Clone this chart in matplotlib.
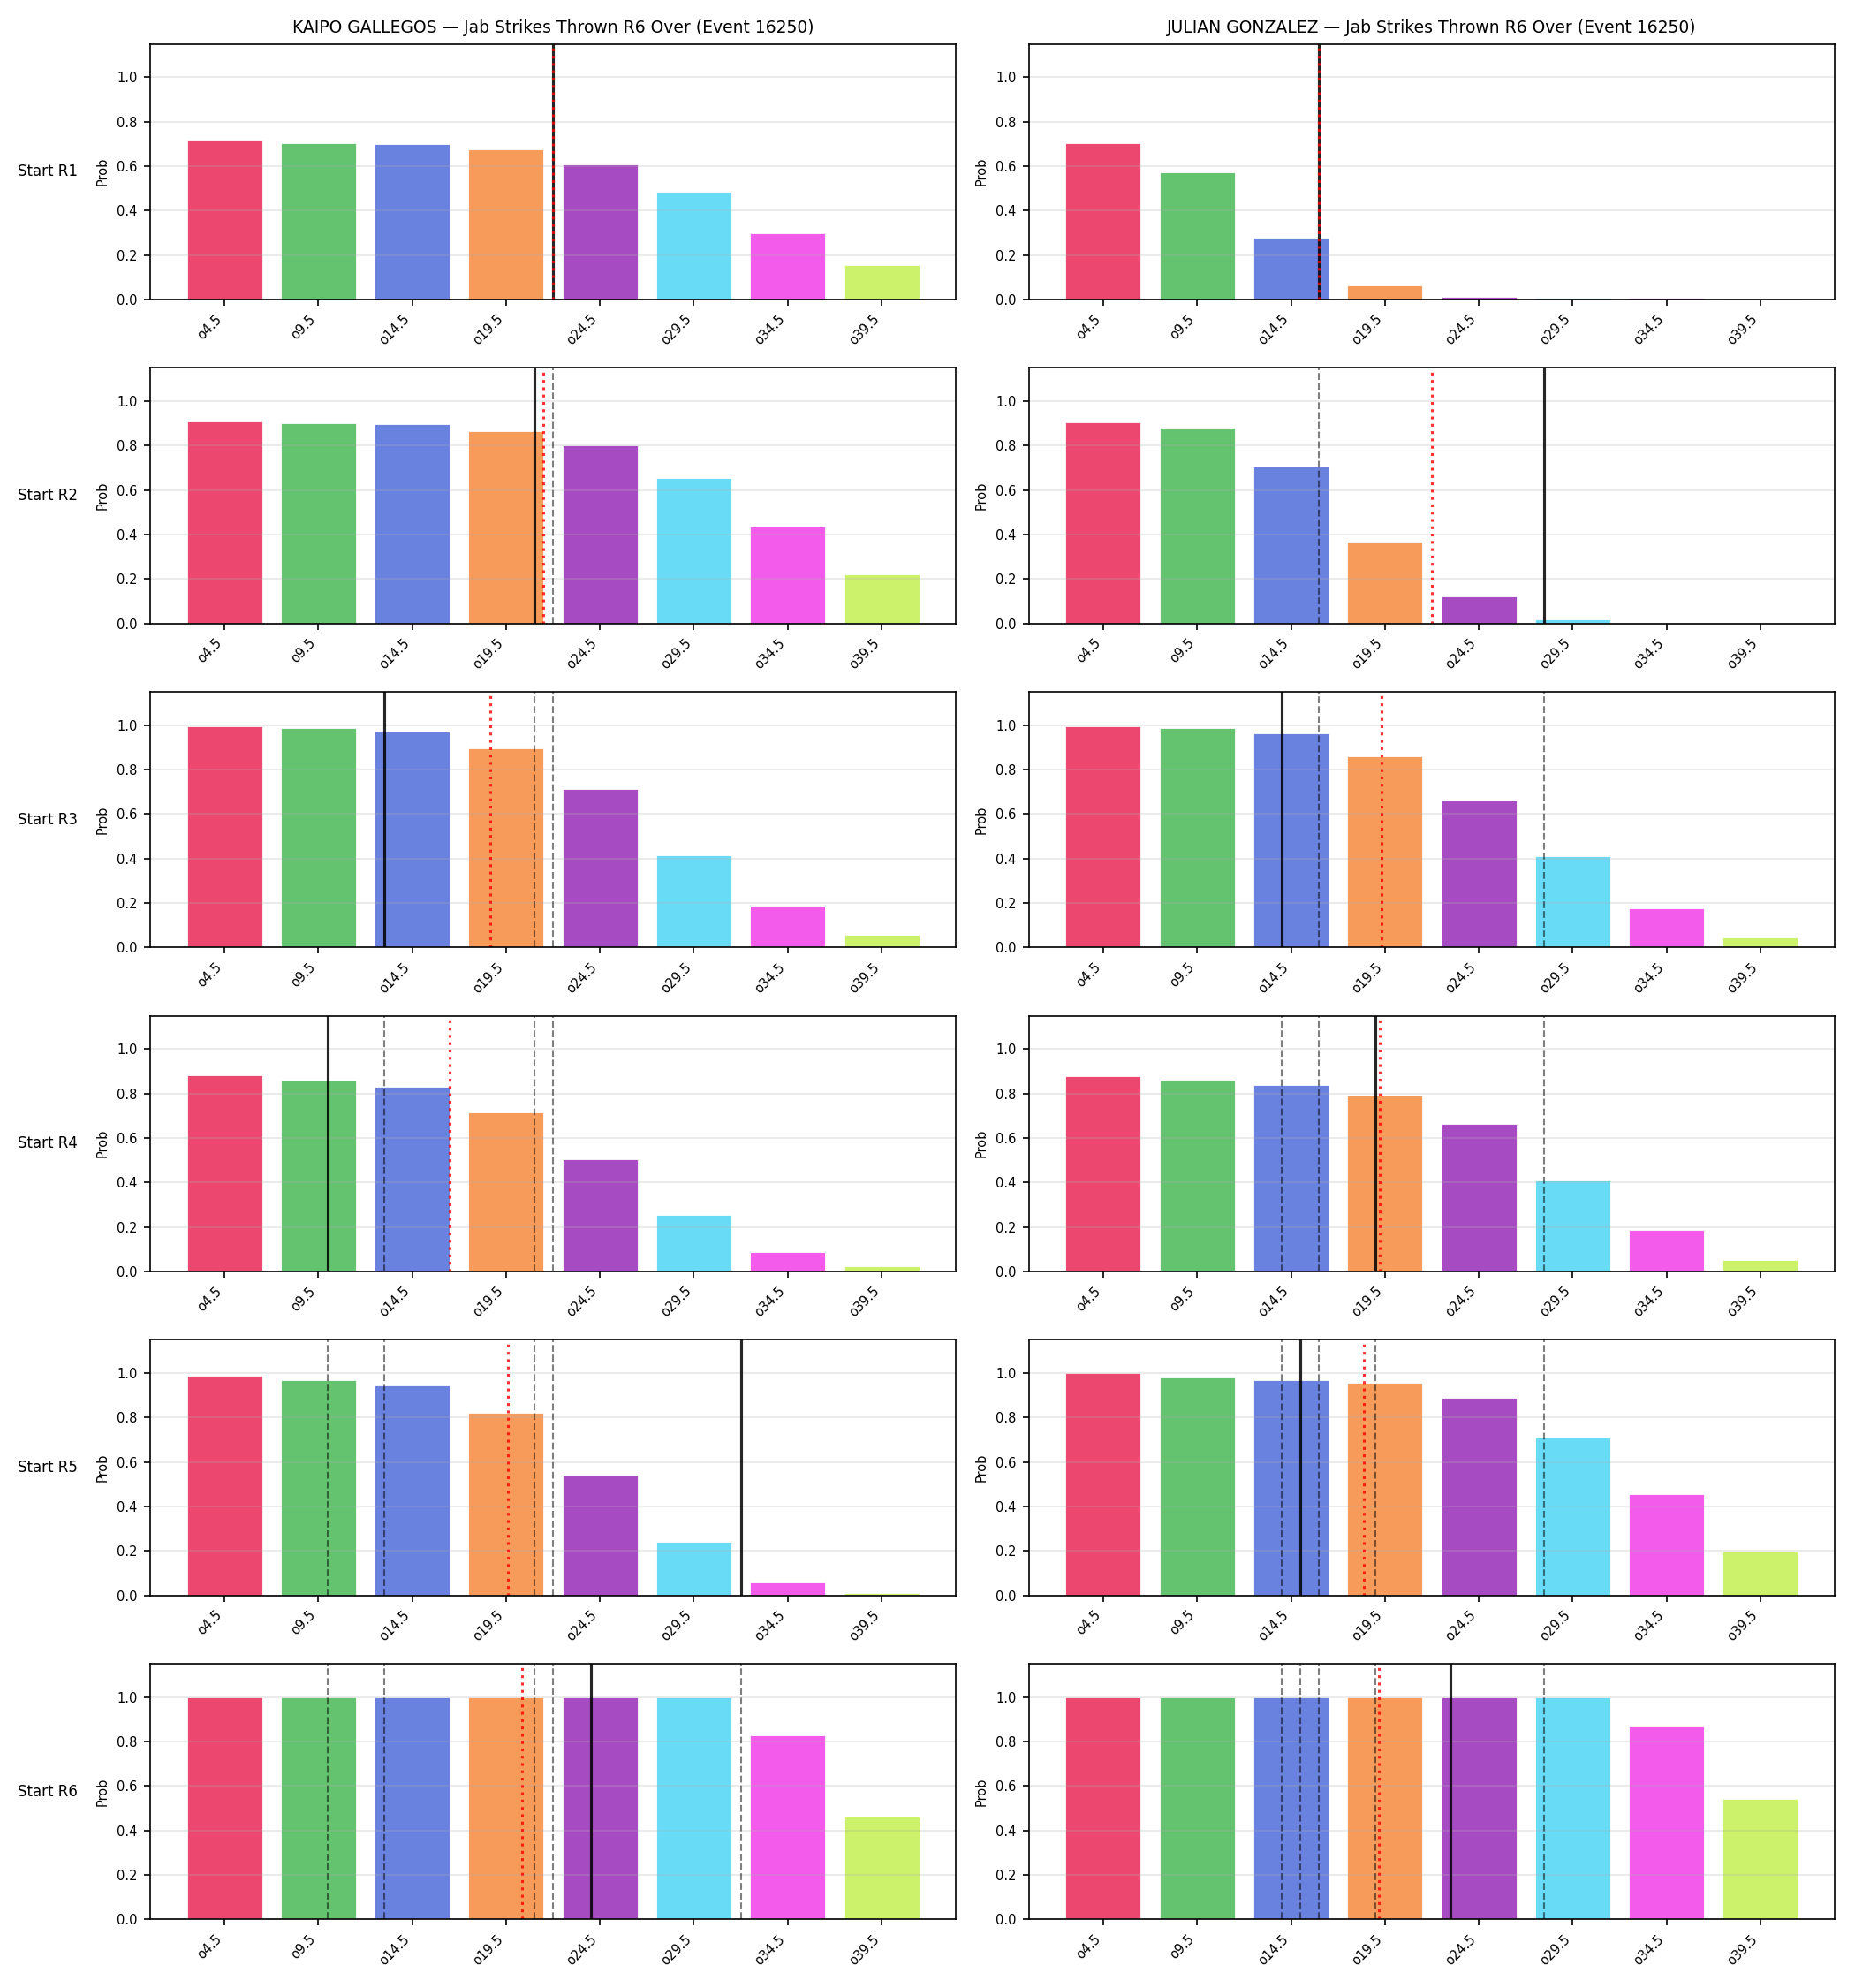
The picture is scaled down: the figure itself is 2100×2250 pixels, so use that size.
import matplotlib
matplotlib.use("Agg")
import matplotlib.pyplot as plt

# thresholds / tick labels
thresholds = [4.5, 9.5, 14.5, 19.5, 24.5, 29.5, 34.5, 39.5]
labels = ['o4.5', 'o9.5', 'o14.5', 'o19.5', 'o24.5', 'o29.5', 'o34.5', 'o39.5']
colors = ['#e6194b', '#3cb44b', '#4363d8', '#f58231',
          '#911eb4', '#42d4f4', '#f032e6', '#bfef45']
rounds = ['Start R1', 'Start R2', 'Start R3', 'Start R4', 'Start R5', 'Start R6']

# P(over) per start round
kaipo_probs = [
    [0.714, 0.702, 0.698, 0.675, 0.607, 0.484, 0.298, 0.155],
    [0.909, 0.901, 0.897, 0.865, 0.800, 0.654, 0.436, 0.221],
    [0.996, 0.988, 0.972, 0.897, 0.714, 0.416, 0.189, 0.058],
    [0.882, 0.858, 0.830, 0.715, 0.504, 0.253, 0.088, 0.023],
    [0.989, 0.970, 0.943, 0.823, 0.540, 0.242, 0.060, 0.012],
    [0.999, 0.999, 0.999, 0.999, 0.999, 0.999, 0.826, 0.464],
]
julian_probs = [
    [0.704, 0.571, 0.279, 0.065, 0.011, 0.007, 0.006, 0.005],
    [0.906, 0.882, 0.707, 0.366, 0.123, 0.019, 0.003, 0.002],
    [0.996, 0.988, 0.964, 0.861, 0.662, 0.412, 0.177, 0.046],
    [0.878, 0.862, 0.838, 0.790, 0.663, 0.408, 0.186, 0.050],
    [0.999, 0.981, 0.970, 0.958, 0.890, 0.711, 0.457, 0.199],
    [0.999, 0.999, 0.999, 0.999, 0.999, 0.999, 0.866, 0.540],
]

# jabs per round (solid line) and running average (red dotted)
kaipo_jabs = [22, 21, 13, 10, 32, 24]
kaipo_avg = [22.0, 21.5, 18.67, 16.5, 19.6, 20.33]
julian_jabs = [16, 28, 14, 19, 15, 23]
julian_avg = [16.0, 22.0, 19.33, 19.25, 18.4, 19.17]

fighters = [
    ('KAIPO GALLEGOS', kaipo_probs, kaipo_jabs, kaipo_avg),
    ('JULIAN GONZALEZ', julian_probs, julian_jabs, julian_avg),
]

fig, axes = plt.subplots(6, 2, figsize=(14, 15), dpi=150)
plt.subplots_adjust(left=0.081, right=0.989, top=0.978, bottom=0.0345,
                    wspace=0.091, hspace=0.267)

for col, (name, probs, jabs, avg) in enumerate(fighters):
    for r in range(6):
        ax = axes[r, col]
        ax.bar(thresholds, probs[r], width=4, color=colors, alpha=0.8,
               edgecolor='white', linewidth=0.5)
        # earlier rounds dashed
        for prev in jabs[:r]:
            ax.axvline(prev, color='k', linestyle='--', linewidth=1, alpha=0.5)
        ax.axvline(jabs[r], color='k', linewidth=1.5, alpha=0.85)
        ax.axvline(avg[r], ymax=0.985, color='red', linestyle=':',
                   linewidth=1.5, alpha=0.8)
        ax.set_ylim(0, 1.15)
        ax.set_xticks(thresholds)
        ax.set_xticklabels(labels, rotation=45, ha='right', fontsize=7)
        ax.tick_params(axis='y', labelsize=7)
        ax.set_ylabel('Prob', fontsize=7)
        ax.grid(axis='y', alpha=0.3)
        if r == 0:
            ax.set_title(f'{name} — Jab Strikes Thrown R6 Over (Event 16250)',
                         fontsize=9)
        if col == 0:
            ax.text(-0.09, 0.5, rounds[r], transform=ax.transAxes,
                    ha='right', va='center', fontsize=8)

plt.savefig('out.png', dpi=150)
